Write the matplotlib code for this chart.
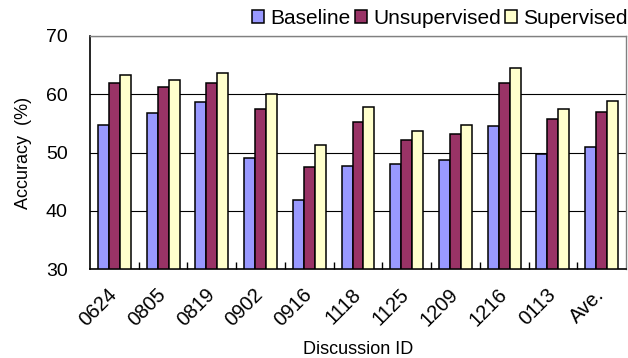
import matplotlib
matplotlib.use("Agg")
import matplotlib.pyplot as plt
import numpy as np

categories = ["0624", "0805", "0819", "0902", "0916", "1118", "1125", "1209", "1216", "0113", "Ave."]
baseline = [54.8, 56.7, 58.7, 49.0, 41.8, 47.6, 48.0, 48.7, 54.5, 49.7, 51.0]
unsupervised = [62.0, 61.3, 62.0, 57.5, 47.5, 55.3, 52.1, 53.1, 62.0, 55.7, 56.9]
supervised = [63.3, 62.4, 63.6, 60.1, 51.3, 57.8, 53.7, 54.7, 64.5, 57.4, 58.9]
yticks = [30, 40, 50, 60, 70]

plt.rcParams['font.family'] = ['Liberation Sans', 'DejaVu Sans']

fig = plt.figure(figsize=(6.28, 3.58), dpi=100)
ax = fig.add_axes([90/628, 1 - 269/358, (626-90)/628, (269-36)/358])

x = np.arange(len(categories))
w = 0.225
kw = dict(edgecolor='black', linewidth=1.1, zorder=3)
ax.bar(x - w, [b - 30 for b in baseline], w, bottom=30, color='#9999FF', label='Baseline', **kw)
ax.bar(x, [u - 30 for u in unsupervised], w, bottom=30, color='#993366', label='Unsupervised', **kw)
ax.bar(x + w, [s - 30 for s in supervised], w, bottom=30, color='#FFFFCC', label='Supervised', **kw)

ax.set_xlim(-0.5, len(categories) - 0.5)
ax.set_ylim(30, 70)
ax.set_yticks(yticks)
ax.tick_params(axis='y', length=0, labelsize=14, pad=16)
ax.yaxis.grid(True, color='black', linewidth=0.8, zorder=0)
ax.set_axisbelow(True)

ax.set_xticks(x)
ax.set_xticklabels([''] * len(categories))
ax.tick_params(axis='x', which='major', length=0)
for i, cat in enumerate(categories):
    ax.annotate(cat, xy=(i, 0), xycoords=ax.get_xaxis_transform(),
                xytext=(-7, -16), textcoords='offset pixels',
                rotation=45, ha='right', va='top', rotation_mode='anchor',
                fontsize=14.5, annotation_clip=False)
ax.set_xticks(np.arange(0.5, len(categories) - 0.5, 1), minor=True)
ax.tick_params(axis='x', which='minor', direction='in', length=5, width=1, color='black')

ax.set_ylabel('Accuracy  (%)', fontsize=13, labelpad=10)
ax.text(358/628, 1 - 349/358, 'Discussion ID', transform=fig.transFigure,
        ha='center', va='center', fontsize=13)

for s in ['left', 'bottom']:
    ax.spines[s].set_color('black')
    ax.spines[s].set_linewidth(1.2)
for s in ['top', 'right']:
    ax.spines[s].set_color('#808080')
    ax.spines[s].set_linewidth(1.0)

leg = fig.legend(loc='center right', bbox_to_anchor=(628/628, 1 - 18/358), ncol=3, frameon=False,
                 fontsize=15, handlelength=0.58, handleheight=0.58, handletextpad=0.3,
                 columnspacing=0.2, borderaxespad=0.0, borderpad=0.0)

fig.savefig('out.png', dpi=100)
